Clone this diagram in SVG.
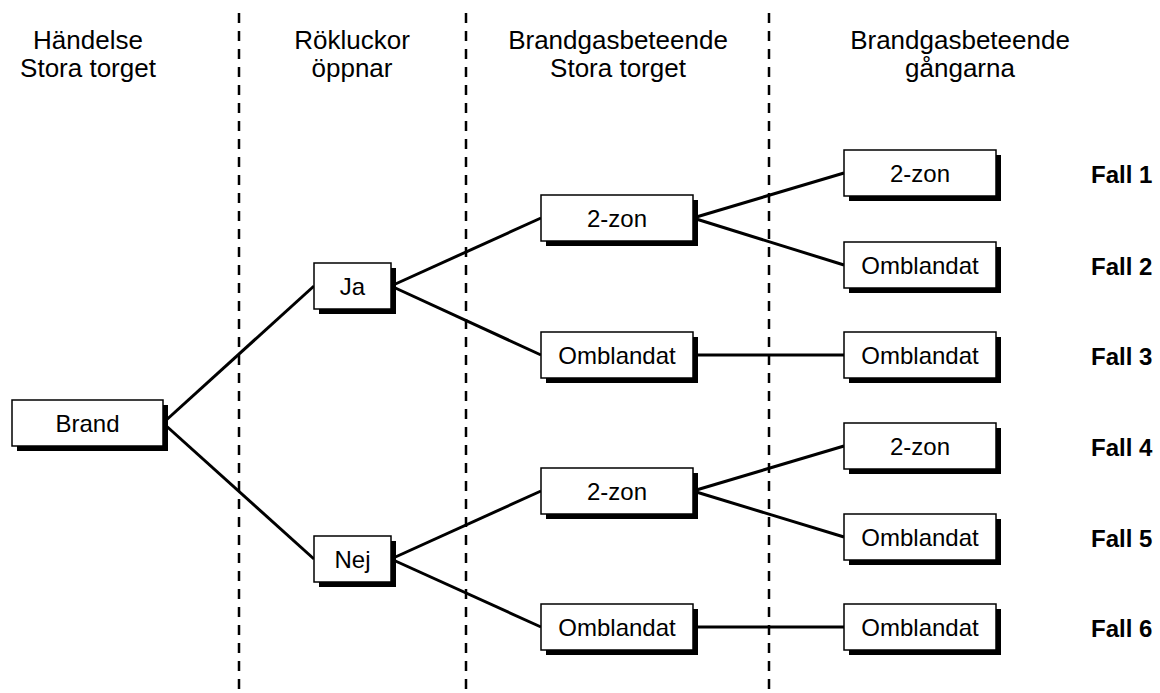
<svg xmlns="http://www.w3.org/2000/svg" width="1160" height="693" viewBox="0 0 1160 693">
<style>
.hdr{font-family:"Liberation Sans",Arial,sans-serif;font-size:26px;fill:#000;text-anchor:middle}
.lbl{font-family:"Liberation Sans",Arial,sans-serif;font-size:24px;fill:#000;text-anchor:middle}
.fall{font-family:"Liberation Sans",Arial,sans-serif;font-size:24px;font-weight:bold;fill:#000}
.box{fill:#fff;stroke:#000;stroke-width:1.5}
.shadow{fill:#000}
.conn{stroke:#000;stroke-width:3;fill:none}
.sep{stroke:#000;stroke-width:2.5;stroke-dasharray:10 8;fill:none}
</style>
<rect width="1160" height="693" fill="#fff"/>
<g id="separators">
<line class="sep" x1="239" y1="13" x2="239" y2="693"/>
<line class="sep" x1="466" y1="13" x2="466" y2="693"/>
<line class="sep" x1="769" y1="13" x2="769" y2="693"/>
</g>
<g id="headers">
<text class="hdr" x="88" y="49">Händelse</text>
<text class="hdr" x="88" y="77">Stora torget</text>
<text class="hdr" x="352" y="49">Rökluckor</text>
<text class="hdr" x="352" y="77">öppnar</text>
<text class="hdr" x="618" y="49">Brandgasbeteende</text>
<text class="hdr" x="618" y="77">Stora torget</text>
<text class="hdr" x="960" y="49">Brandgasbeteende</text>
<text class="hdr" x="960" y="77">gångarna</text>
</g>
<g id="connectors">
<line class="conn" x1="163" y1="423" x2="314" y2="286"/>
<line class="conn" x1="163" y1="423" x2="314" y2="559"/>
<line class="conn" x1="391" y1="286" x2="541" y2="218"/>
<line class="conn" x1="391" y1="286" x2="541" y2="355"/>
<line class="conn" x1="391" y1="559" x2="541" y2="491"/>
<line class="conn" x1="391" y1="559" x2="541" y2="627"/>
<line class="conn" x1="693" y1="218" x2="844" y2="173"/>
<line class="conn" x1="693" y1="218" x2="844" y2="265"/>
<line class="conn" x1="693" y1="355" x2="844" y2="355"/>
<line class="conn" x1="693" y1="491" x2="844" y2="446"/>
<line class="conn" x1="693" y1="491" x2="844" y2="537"/>
<line class="conn" x1="693" y1="627" x2="844" y2="627"/>
</g>
<g id="brand">
<rect class="shadow" x="17" y="405" width="151" height="46"/>
<rect class="box" x="12" y="400" width="151" height="46"/>
<text class="lbl" x="87.5" y="431.5">Brand</text>
</g>
<g id="ja">
<rect class="shadow" x="319" y="268" width="77" height="46"/>
<rect class="box" x="314" y="263" width="77" height="46"/>
<text class="lbl" x="352.5" y="294.5">Ja</text>
</g>
<g id="nej">
<rect class="shadow" x="319" y="541" width="77" height="46"/>
<rect class="box" x="314" y="536" width="77" height="46"/>
<text class="lbl" x="352.5" y="567.5">Nej</text>
</g>
<g id="torget-2zon-ja">
<rect class="shadow" x="546" y="200" width="152" height="46"/>
<rect class="box" x="541" y="195" width="152" height="46"/>
<text class="lbl" x="617" y="226.5">2-zon</text>
</g>
<g id="torget-omblandat-ja">
<rect class="shadow" x="546" y="337" width="152" height="46"/>
<rect class="box" x="541" y="332" width="152" height="46"/>
<text class="lbl" x="617" y="363.5">Omblandat</text>
</g>
<g id="torget-2zon-nej">
<rect class="shadow" x="546" y="473" width="152" height="46"/>
<rect class="box" x="541" y="468" width="152" height="46"/>
<text class="lbl" x="617" y="499.5">2-zon</text>
</g>
<g id="torget-omblandat-nej">
<rect class="shadow" x="546" y="609" width="152" height="46"/>
<rect class="box" x="541" y="604" width="152" height="46"/>
<text class="lbl" x="617" y="635.5">Omblandat</text>
</g>
<g id="gang-1">
<rect class="shadow" x="849" y="155" width="152" height="46"/>
<rect class="box" x="844" y="150" width="152" height="46"/>
<text class="lbl" x="920" y="181.5">2-zon</text>
</g>
<g id="gang-2">
<rect class="shadow" x="849" y="247" width="152" height="46"/>
<rect class="box" x="844" y="242" width="152" height="46"/>
<text class="lbl" x="920" y="273.5">Omblandat</text>
</g>
<g id="gang-3">
<rect class="shadow" x="849" y="337" width="152" height="46"/>
<rect class="box" x="844" y="332" width="152" height="46"/>
<text class="lbl" x="920" y="363.5">Omblandat</text>
</g>
<g id="gang-4">
<rect class="shadow" x="849" y="428" width="152" height="46"/>
<rect class="box" x="844" y="423" width="152" height="46"/>
<text class="lbl" x="920" y="454.5">2-zon</text>
</g>
<g id="gang-5">
<rect class="shadow" x="849" y="519" width="152" height="46"/>
<rect class="box" x="844" y="514" width="152" height="46"/>
<text class="lbl" x="920" y="545.5">Omblandat</text>
</g>
<g id="gang-6">
<rect class="shadow" x="849" y="609" width="152" height="46"/>
<rect class="box" x="844" y="604" width="152" height="46"/>
<text class="lbl" x="920" y="635.5">Omblandat</text>
</g>
<g id="fall-labels">
<text class="fall" x="1091" y="183">Fall 1</text>
<text class="fall" x="1091" y="275">Fall 2</text>
<text class="fall" x="1091" y="365">Fall 3</text>
<text class="fall" x="1091" y="456">Fall 4</text>
<text class="fall" x="1091" y="547">Fall 5</text>
<text class="fall" x="1091" y="637">Fall 6</text>
</g>
</svg>
